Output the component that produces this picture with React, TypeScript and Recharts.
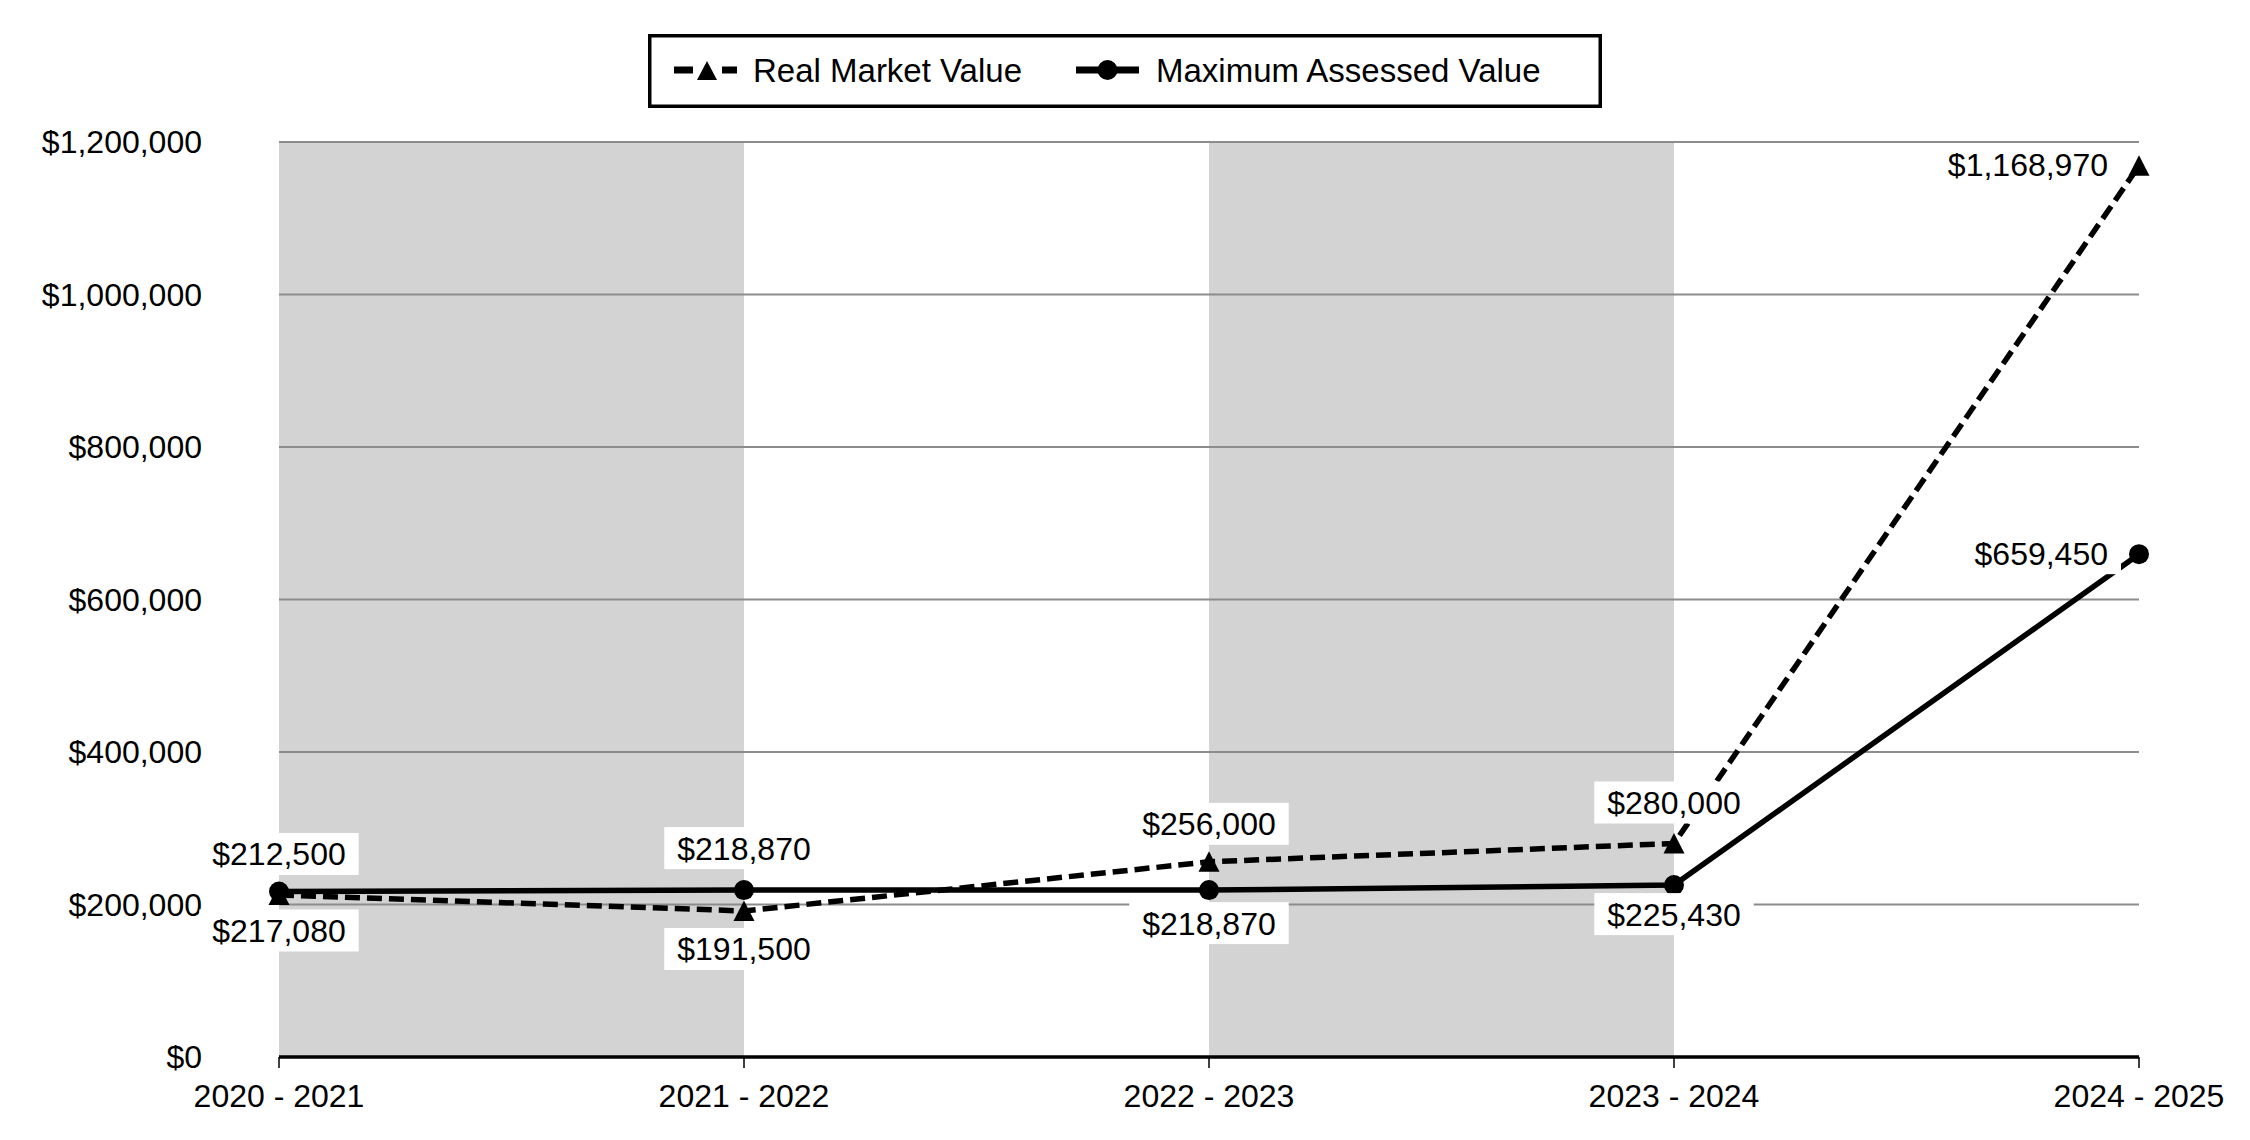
import React from 'react';
import { LineChart, Line, XAxis, YAxis, CartesianGrid, Legend } from 'recharts';

const periods = ['2020 - 2021', '2021 - 2022', '2022 - 2023', '2023 - 2024', '2024 - 2025'];
const realMarketValue = [212500, 191500, 256000, 280000, 1168970];
const maxAssessedValue = [217080, 218870, 218870, 225430, 659450];
const yTicks = [0, 200000, 400000, 600000, 800000, 1000000, 1200000];
const seriesNames = ['Real Market Value', 'Maximum Assessed Value'];

// label placement (style only)
const rmvLabelLayout = [
  { pos: 'top', d: 41 },
  { pos: 'bottom', d: 38 },
  { pos: 'top', d: 38 },
  { pos: 'top', d: 41 },
  { pos: 'left', d: 31 },
];
const mavLabelLayout = [
  { pos: 'bottom', d: 39 },
  { pos: 'top', d: 42 },
  { pos: 'bottom', d: 33 },
  { pos: 'bottom', d: 29 },
  { pos: 'left', d: 31 },
];

const data = periods.map((p, i) => ({ period: p, rmv: realMarketValue[i], mav: maxAssessedValue[i] }));

const FONT = '"Liberation Sans", Arial, Helvetica, sans-serif';
const FS = 32;
const LFS = 33;

const fmt = (v: number) => '$' + Number(v).toLocaleString('en-US');

const textWidth = (s: string) => {
  let w = 0;
  for (const ch of s) {
    if (ch === ',' || ch === '.') w += 0.278;
    else if (ch === ' ') w += 0.278;
    else if (ch === '-') w += 0.333;
    else w += 0.556;
  }
  return w * FS;
};

function ValueLabel(props: any) {
  const { x, y, value, index, layout } = props;
  if (x == null || y == null || value == null) return null;
  const l = layout[index];
  const text = fmt(value);
  const w = textWidth(text);
  const boxW = w + 26;
  const boxH = 42;
  let cx = x;
  let cy = y;
  if (l.pos === 'top') cy = y - l.d;
  else if (l.pos === 'bottom') cy = y + l.d;
  else {
    cx = x - l.d - w / 2;
    cy = y - 1;
  }
  return (
    <g>
      <rect x={cx - boxW / 2} y={cy - boxH / 2} width={boxW} height={boxH} fill="#ffffff" />
      <text
        x={cx}
        y={cy + 0.358 * FS}
        textAnchor="middle"
        fontFamily={FONT}
        fontSize={FS}
        fill="#000"
      >
        {text}
      </text>
    </g>
  );
}

function TriangleDot(props: any) {
  const { cx, cy } = props;
  if (cx == null || cy == null) return null;
  return <polygon points={`${cx},${cy - 10.5} ${cx - 10.5},${cy + 10} ${cx + 10.5},${cy + 10}`} fill="#000" />;
}

function CircleDot(props: any) {
  const { cx, cy } = props;
  if (cx == null || cy == null) return null;
  return <circle cx={cx} cy={cy} r={10} fill="#000" />;
}

function LegendBox() {
  const W = 954;
  const H = 74;
  const cy = 36;
  return (
    <svg width={W} height={H} style={{ display: 'block' }}>
      <rect x={1.75} y={1.75} width={W - 3.5} height={H - 3.5} fill="#fff" stroke="#000" strokeWidth={3.5} />
      <rect x={26} y={cy - 3.5} width={19} height={7} fill="#000" />
      <rect x={74} y={cy - 3.5} width={15} height={7} fill="#000" />
      <polygon points={`59,${cy - 9} 49,${cy + 10} 69,${cy + 10}`} fill="#000" />
      <text x={105} y={cy + 0.358 * LFS} fontFamily={FONT} fontSize={LFS} fill="#000">
        {seriesNames[0]}
      </text>
      <rect x={428} y={cy - 3.5} width={63} height={7} fill="#000" />
      <circle cx={459.5} cy={cy} r={10} fill="#000" />
      <text x={508} y={cy + 0.358 * LFS} fontFamily={FONT} fontSize={LFS} fill="#000">
        {seriesNames[1]}
      </text>
    </svg>
  );
}

export default function App() {
  return (
    <div style={{ position: 'absolute', left: 0, top: 0, width: 2250, height: 1140, background: '#fff' }}>
      <LineChart
        width={2250}
        height={1140}
        data={data}
        margin={{ top: 142, right: 111, bottom: 23, left: 9 }}
      >
        <CartesianGrid
          horizontal={false}
          vertical={true}
          verticalFill={['#d3d3d3', 'rgba(255,255,255,0)']}
          stroke="rgba(0,0,0,0)"
          strokeWidth={0}
        />
        <CartesianGrid horizontal={true} vertical={false} stroke="#8c8c8c" strokeWidth={2} />
        <XAxis
          dataKey="period"
          type="category"
          interval={0}
          padding={{ left: 0, right: 0 }}
          height={60}
          axisLine={{ stroke: '#000', strokeWidth: 3.5 }}
          tickLine={{ stroke: '#000', strokeWidth: 1.5 }}
          tickSize={11}
          tickMargin={16}
          tick={{ fontFamily: FONT, fontSize: FS, fill: '#000' }}
        />
        <YAxis
          type="number"
          domain={[0, 1200000]}
          ticks={yTicks}
          width={270}
          axisLine={false}
          tickLine={false}
          tickSize={0}
          tickMargin={77}
          tickFormatter={(v: number) => fmt(v)}
          tick={{ fontFamily: FONT, fontSize: FS, fill: '#000' }}
        />
        <Legend
          layout="horizontal"
          verticalAlign="middle"
          align="center"
          wrapperStyle={{ top: 34, left: 648, width: 954, height: 74 }}
          content={() => <LegendBox />}
        />
        <Line
          dataKey="rmv"
          name={seriesNames[0]}
          stroke="#000"
          strokeWidth={5.5}
          strokeDasharray="15 7"
          type="linear"
          isAnimationActive={false}
          dot={(p: any) => <TriangleDot key={`t${p.index}`} {...p} />}
          activeDot={false}
          label={(p: any) => <ValueLabel key={`lt${p.index}`} {...p} layout={rmvLabelLayout} />}
        />
        <Line
          dataKey="mav"
          name={seriesNames[1]}
          stroke="#000"
          strokeWidth={5.5}
          type="linear"
          isAnimationActive={false}
          dot={(p: any) => <CircleDot key={`c${p.index}`} {...p} />}
          activeDot={false}
          label={(p: any) => <ValueLabel key={`lc${p.index}`} {...p} layout={mavLabelLayout} />}
        />
      </LineChart>
    </div>
  );
}
